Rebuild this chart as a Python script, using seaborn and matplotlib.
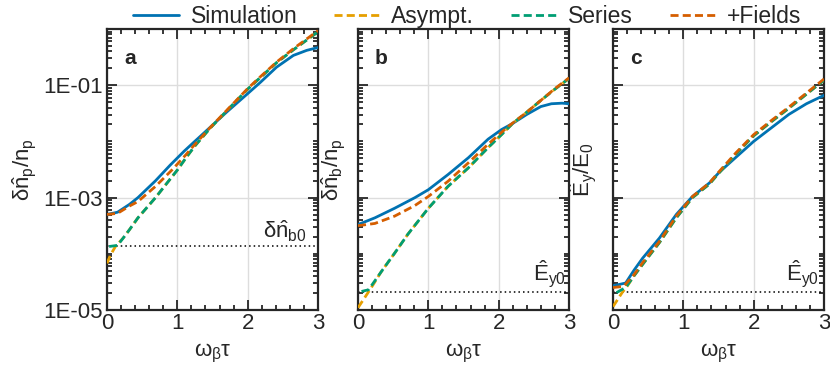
import numpy as np
import pandas as pd
import seaborn as sns
import matplotlib
matplotlib.use("Agg")
import matplotlib.pyplot as plt
from matplotlib.ticker import FixedLocator, LogLocator, MultipleLocator, NullFormatter

sns.set_style("ticks")
plt.rcParams['font.family'] = ['Liberation Sans', 'DejaVu Sans']
plt.rcParams['mathtext.fontset'] = 'custom'
plt.rcParams['mathtext.rm'] = 'Liberation Sans'
plt.rcParams['mathtext.it'] = 'Liberation Sans'
plt.rcParams['mathtext.bf'] = 'Liberation Sans:bold'

# ---- data (log10 values) ----
series_names = ["Simulation", "Asympt.", "Series", "+Fields"]
colors = ["#0072B2", "#E69F00", "#009E73", "#D55E00"]

# Panel a
a_sim_t = [0.0, 0.15, 0.32, 0.44, 0.69, 0.9, 1.1, 1.23, 1.37, 1.7, 2.0, 2.18, 2.41, 2.65, 2.84, 3.0]
a_sim_y = [-3.30, -3.26, -3.12, -3.00, -2.70, -2.42, -2.17, -2.02, -1.86, -1.48, -1.15, -0.95, -0.68, -0.47, -0.38, -0.33]
a_asy_t = [0.0, 0.05, 0.12, 0.23, 0.32, 0.44, 0.69, 0.93, 1.0, 1.13, 1.25, 1.47, 1.7, 2.0, 2.41, 2.65, 3.0]
a_asy_y = [-4.17, -4.02, -3.87, -3.72, -3.57, -3.36, -3.00, -2.62, -2.51, -2.28, -2.08, -1.76, -1.46, -1.07, -0.60, -0.37, -0.05]
a_ser_t = [0.03, 0.15, 0.23, 0.32, 0.44, 0.69, 0.93, 1.0, 1.13, 1.25, 1.47, 1.7, 2.0, 2.41, 2.65, 3.0]
a_ser_y = [-3.87, -3.85, -3.72, -3.57, -3.36, -3.00, -2.62, -2.51, -2.28, -2.08, -1.76, -1.46, -1.07, -0.60, -0.37, -0.05]
a_fld_t = [0.0, 0.15, 0.32, 0.44, 0.69, 0.93, 1.12, 1.23, 1.47, 1.7, 2.0, 2.18, 2.41, 2.65, 3.0]
a_fld_y = [-3.30, -3.28, -3.15, -3.07, -2.80, -2.50, -2.24, -2.08, -1.75, -1.45, -1.06, -0.85, -0.59, -0.35, -0.03]

# Panel b
b_sim_t = [0.0, 0.24, 0.52, 0.81, 1.0, 1.28, 1.57, 1.85, 2.04, 2.2, 2.4, 2.6, 2.75, 2.9, 3.0]
b_sim_y = [-3.48, -3.36, -3.19, -3.00, -2.86, -2.59, -2.29, -1.96, -1.79, -1.68, -1.52, -1.38, -1.33, -1.32, -1.33]
b_asy_t = [0.0, 0.09, 0.19, 0.33, 0.52, 0.71, 1.0, 1.28, 1.57, 1.85, 2.04, 2.2, 2.4, 2.6, 2.8, 3.0]
b_asy_y = [-4.96, -4.79, -4.60, -4.32, -3.99, -3.65, -3.19, -2.80, -2.47, -2.11, -1.88, -1.68, -1.48, -1.27, -1.07, -0.88]
b_ser_t = [0.05, 0.15, 0.33, 0.52, 0.71, 1.0, 1.28, 1.57, 1.85, 2.04, 2.2, 2.4, 2.6, 2.8, 3.0]
b_ser_y = [-4.67, -4.64, -4.32, -3.99, -3.65, -3.19, -2.80, -2.47, -2.11, -1.88, -1.68, -1.48, -1.27, -1.07, -0.88]
b_fld_t = [0.0, 0.24, 0.52, 0.81, 1.0, 1.28, 1.57, 1.85, 2.14, 2.4, 2.6, 2.8, 3.0]
b_fld_y = [-3.50, -3.46, -3.33, -3.14, -2.98, -2.71, -2.38, -2.05, -1.73, -1.48, -1.27, -1.06, -0.87]

# Panel c
c_sim_t = [0.0, 0.18, 0.3, 0.42, 0.66, 0.9, 1.0, 1.13, 1.37, 1.51, 1.75, 2.0, 2.25, 2.5, 2.75, 3.0]
c_sim_y = [-4.57, -4.52, -4.29, -4.08, -3.72, -3.30, -3.16, -2.98, -2.74, -2.55, -2.28, -2.00, -1.76, -1.52, -1.33, -1.18]
c_asy_t = [0.0, 0.13, 0.2, 0.3, 0.42, 0.66, 0.9, 1.13, 1.37, 1.5, 1.75, 2.0, 2.25, 2.5, 2.75, 3.0]
c_asy_y = [-4.94, -4.69, -4.58, -4.39, -4.19, -3.80, -3.36, -3.00, -2.76, -2.57, -2.22, -1.90, -1.65, -1.41, -1.16, -0.91]
c_ser_t = [0.05, 0.18, 0.3, 0.42, 0.66, 0.9, 1.13, 1.37, 1.5, 1.75, 2.0, 2.25, 2.5, 2.75, 3.0]
c_ser_y = [-4.69, -4.60, -4.39, -4.19, -3.80, -3.36, -3.00, -2.76, -2.57, -2.22, -1.90, -1.65, -1.41, -1.16, -0.91]
c_fld_t = [0.0, 0.15, 0.3, 0.42, 0.66, 0.9, 1.13, 1.37, 1.5, 1.75, 2.0, 2.25, 2.5, 2.75, 3.0]
c_fld_y = [-4.60, -4.58, -4.37, -4.16, -3.78, -3.33, -2.98, -2.74, -2.55, -2.20, -1.88, -1.63, -1.39, -1.14, -0.89]

ref_levels = [1.35e-4, 2.1e-5, 2.1e-5]
ref_labels = [r"$\delta\hat{n}_{b0}$", r"$\hat{E}_{y0}$", r"$\hat{E}_{y0}$"]
ref_label_x = [2.84, 2.95, 2.93]
ylabels = [r"$\delta\hat{n}_p/n_p$", r"$\delta\hat{n}_b/n_p$", r"$\hat{E}_y/E_0$"]
panel_letters = ["a", "b", "c"]
ytick_vals = [1e-5, 1e-3, 1e-1]
ytick_labels = ["1E-05", "1E-03", "1E-01"]
xtick_vals = [0, 1, 2, 3]

panels = [
    [(a_sim_t, a_sim_y), (a_asy_t, a_asy_y), (a_ser_t, a_ser_y), (a_fld_t, a_fld_y)],
    [(b_sim_t, b_sim_y), (b_asy_t, b_asy_y), (b_ser_t, b_ser_y), (b_fld_t, b_fld_y)],
    [(c_sim_t, c_sim_y), (c_asy_t, c_asy_y), (c_ser_t, c_ser_y), (c_fld_t, c_fld_y)],
]

fig = plt.figure(figsize=(8.3, 3.84), dpi=100)
lefts = [107 / 830, 358 / 830, 613 / 830]
W = 211 / 830
B = (384 - 310) / 384
H = 281 / 384
ylabel_x = [-0.327, -0.05, -0.072]

styles = [dict(ls='-'), dict(dashes=(2.9, 1.5)), dict(dashes=(2.9, 1.5)), dict(dashes=(2.9, 1.5))]
handles = []
for i, ax_left in enumerate(lefts):
    ax = fig.add_axes([ax_left, B, W, H])
    for j, (t, y) in enumerate(panels[i]):
        df = pd.DataFrame({"t": t, "v": 10 ** np.array(y)})
        sns.lineplot(data=df, x="t", y="v", ax=ax, color=colors[j], lw=2.0,
                     sort=True, estimator=None, zorder=3 + j, **styles[j])
        if i == 0:
            handles.append(ax.lines[-1])
    ax.axhline(ref_levels[i], color='black', ls=(0, (1, 2)), lw=1.1, zorder=2)
    ax.text(ref_label_x[i], ref_levels[i] * 1.12, ref_labels[i], ha='right', va='bottom', fontsize=16)
    ax.set_yscale('log')
    ax.set_xlim(0, 3)
    ax.set_ylim(1e-5, 1.0)
    ax.yaxis.set_major_locator(FixedLocator(ytick_vals))
    ax.yaxis.set_minor_locator(LogLocator(base=10, subs=np.arange(1, 10), numticks=50))
    ax.yaxis.set_minor_formatter(NullFormatter())
    if i == 0:
        ax.set_yticklabels(ytick_labels)
    else:
        ax.set_yticklabels([])
    ax.xaxis.set_major_locator(FixedLocator(xtick_vals))
    ax.xaxis.set_minor_locator(MultipleLocator(0.2))
    ax.set_xticklabels([str(v) for v in xtick_vals])
    ax.grid(True, which='major', color='#dddddd', lw=1.0, zorder=0)
    ax.tick_params(which='both', direction='in', top=True, right=True, labelsize=16, width=1.3)
    ax.tick_params(which='major', length=7, pad=2)
    ax.tick_params(axis='y', which='major', pad=3)
    ax.tick_params(which='minor', length=3.5)
    for s in ax.spines.values():
        s.set_linewidth(1.6)
    ax.set_xlabel(r"$\omega_\beta\tau$", fontsize=16)
    ax.xaxis.set_label_coords(0.5, -0.115)
    ax.set_ylabel(ylabels[i], fontsize=16)
    ax.yaxis.set_label_coords(ylabel_x[i], 0.5)
    ax.text(0.08, 0.93, panel_letters[i], transform=ax.transAxes, fontsize=15,
            fontweight='bold', ha='left', va='top')

fig.legend(handles, series_names, loc='center', bbox_to_anchor=(0.563, 0.958), ncol=4,
           frameon=False, fontsize=16.5, handlelength=2.0, handletextpad=0.5, columnspacing=1.6,
           borderaxespad=0, borderpad=0)
fig.savefig("out.png", dpi=100)
